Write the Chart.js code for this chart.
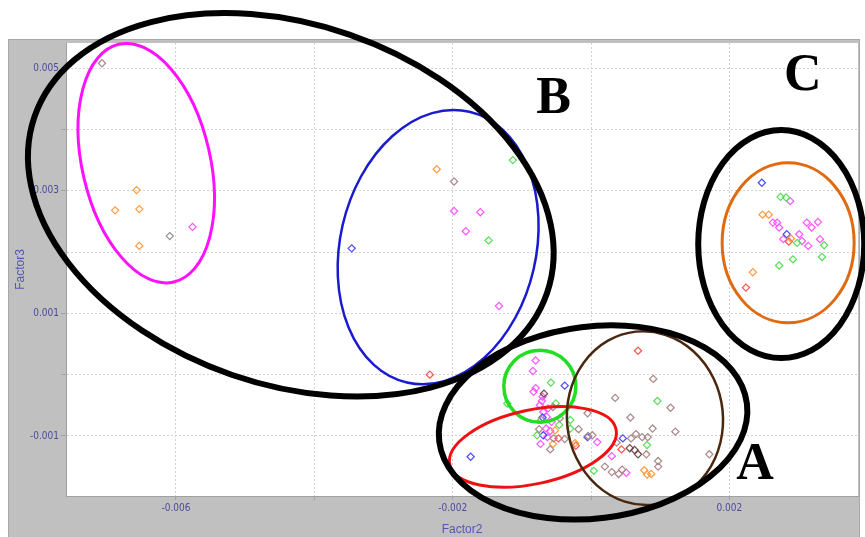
<!DOCTYPE html>
<html>
<head>
<meta charset="utf-8">
<script src="https://cdn.jsdelivr.net/npm/chart.js@4.4.1/dist/chart.umd.min.js"></script>
<style>
  html, body { margin: 0; padding: 0; background: #ffffff; }
  #wrap { width: 865px; height: 537px; }
</style>
</head>
<body>
<div id="wrap"><canvas id="c" width="865" height="537"></canvas></div>
<script>
// Factor scores (Factor2, Factor3) per sample group
const pinkPts = [
  [-0.00576, 0.00241], [-0.00198, 0.00267], [-0.00160, 0.00265], [-0.00181, 0.00234], [-0.00133, 0.00112],
  [-0.00080, 0.00023], [-0.00084, 0.00006], [-0.00080, -0.00022], [-0.00083, -0.00028], [-0.00070, -0.00036],
  [-0.00071, -0.00043], [-0.00074, -0.00050], [-0.00062, -0.00055], [-0.00069, -0.00061], [-0.00064, -0.00069],
  [-0.00057, -0.00077], [-0.00065, -0.00088], [-0.00059, -0.00092], [-0.00063, -0.00102], [-0.00073, -0.00113],
  [0.00009, -0.00110], [0.00030, -0.00133], [0.00051, -0.00160],
  [0.00288, 0.00283], [0.00263, 0.00248], [0.00269, 0.00248], [0.00272, 0.00240], [0.00312, 0.00248],
  [0.00328, 0.00249], [0.00319, 0.00240], [0.00278, 0.00221], [0.00301, 0.00229], [0.00305, 0.00218],
  [0.00314, 0.00210], [0.00331, 0.00221]
];
const orangePts = [
  [-0.00657, 0.00301], [-0.00688, 0.00268], [-0.00653, 0.00270], [-0.00653, 0.00210], [-0.00223, 0.00335],
  [-0.00052, -0.00091], [-0.00055, -0.00113], [-0.00023, -0.00112], [0.00077, -0.00156], [0.00081, -0.00163],
  [0.00087, -0.00162], [0.00248, 0.00261], [0.00257, 0.00261], [0.00289, 0.00222], [0.00234, 0.00167]
];
const brownPts = [
  [-0.00707, 0.00508], [-0.00198, 0.00315], [-0.00055, -0.00053], [-0.00018, -0.00089], [-0.00075, -0.00089],
  [-0.00054, -0.00104], [-0.00038, -0.00105], [-0.00059, -0.00122], [-0.00005, -0.00063], [-0.00004, -0.00100],
  [0.00002, -0.00099], [0.00090, -0.00007], [0.00035, -0.00038], [0.00115, -0.00054], [0.00057, -0.00070],
  [0.00089, -0.00088], [0.00122, -0.00093], [0.00058, -0.00104], [0.00065, -0.00097], [0.00074, -0.00102],
  [0.00082, -0.00102], [0.00037, -0.00111], [0.00080, -0.00130], [0.00097, -0.00141], [0.00097, -0.00150],
  [0.00020, -0.00150], [0.00030, -0.00159], [0.00040, -0.00162], [0.00045, -0.00155], [0.00171, -0.00130],
  [-0.00072, -0.00074], [-0.00045, -0.00071]
];
const darkBrownPts = [
  [-0.00068, -0.00031], [0.00056, -0.00120], [0.00063, -0.00123], [0.00068, -0.00130]
];
const grayPts = [
  [-0.00609, 0.00226]
];
const bluePts = [
  [-0.00346, 0.00206], [-0.00038, -0.00018], [-0.00070, -0.00070], [-0.00069, -0.00099], [-0.00005, -0.00102],
  [0.00046, -0.00104], [-0.00174, -0.00134], [0.00247, 0.00313], [0.00283, 0.00229]
];
const greenPts = [
  [-0.00113, 0.00350], [-0.00148, 0.00219], [-0.00058, -0.00013], [-0.00051, -0.00047], [-0.00121, -0.00047],
  [-0.00030, -0.00074], [-0.00030, -0.00088], [-0.00078, -0.00099], [-0.00046, -0.00082], [0.00096, -0.00043],
  [0.00081, -0.00115], [0.00004, -0.00157], [0.00274, 0.00290], [0.00282, 0.00289], [0.00298, 0.00215],
  [0.00337, 0.00211], [0.00292, 0.00188], [0.00272, 0.00178], [0.00334, 0.00192]
];
const redPts = [
  [-0.00233, 0.00000], [0.00068, 0.00039], [0.00044, -0.00122], [-0.00022, -0.00116], [-0.00047, -0.00104],
  [0.00286, 0.00217], [0.00224, 0.00142]
];

// Axis ticks
const xTicks = [-0.006, -0.004, -0.002, 0, 0.002];
const xLabelled = [-0.006, -0.002, 0.002];
const yTicks = [-0.001, 0, 0.001, 0.002, 0.003, 0.004, 0.005];
const yLabelled = [-0.001, 0.001, 0.003, 0.005];

// Group outlines and labels (centre in data units, radii in px, rotation in degrees)
const outlines = [
  { cx: -0.00643, cy: 0.00345, rx: 64, ry: 122, rot: -13, color: '#ff10ff', width: 3 },
  { cx: -0.00221, cy: 0.00208, rx: 98, ry: 139, rot: 13, color: '#1a1ad0', width: 2.5 },
  { cx: -0.00074, cy: -0.00019, rx: 36, ry: 36, rot: 0, color: '#22dd22', width: 3.5 },
  { cx: -0.00084, cy: -0.00118, rx: 85, ry: 37, rot: -12, color: '#ee1111', width: 3 },
  { cx: 0.00078, cy: -0.00071, rx: 78, ry: 87, rot: -6, color: '#4a2810', width: 2.5 },
  { cx: 0.00285, cy: 0.00215, rx: 66, ry: 80, rot: 0, color: '#e06a10', width: 3 },
  { cx: -0.00434, cy: 0.00277, rx: 271, ry: 180, rot: 19, color: '#000000', width: 6 },
  { cx: 0.00003, cy: -0.00078, rx: 155, ry: 96, rot: -7, color: '#000000', width: 6 },
  { cx: 0.00275, cy: 0.00213, rx: 83, ry: 114, rot: 0, color: '#000000', width: 6 }
];
const groupLabels = [
  { text: 'A', x: 0.00237, y: -0.00149 },
  { text: 'B', x: -0.00054, y: 0.00448 },
  { text: 'C', x: 0.00306, y: 0.00487 }
];

function toXY(arr) { return arr.map(p => ({ x: p[0], y: p[1] })); }
function series(label, arr, color) {
  return {
    label, data: toXY(arr),
    pointStyle: 'rectRot', pointRadius: 3.6, pointHoverRadius: 3.6,
    borderColor: color, backgroundColor: 'rgba(255,255,255,0)', borderWidth: 1.2
  };
}

const frame = {
  id: 'frame',
  beforeDraw(chart) {
    const { ctx, chartArea: a } = chart;
    ctx.save();
    ctx.fillStyle = '#ffffff';
    ctx.fillRect(0, 0, chart.width, chart.height);
    ctx.fillStyle = '#c0c0c0';
    ctx.fillRect(8, a.top - 4, a.right + 2 - 8, chart.height - (a.top - 4));
    ctx.strokeStyle = '#a8a8a8';
    ctx.lineWidth = 1;
    ctx.strokeRect(8.5, a.top - 3.5, a.right + 1 - 8, chart.height);
    ctx.fillStyle = '#ffffff';
    ctx.fillRect(a.left, a.top, a.right - a.left, a.bottom - a.top);
    ctx.restore();
  }
};

const annotate = {
  id: 'annotate',
  afterDraw(chart) {
    const { ctx } = chart;
    const sx = chart.scales.x, sy = chart.scales.y;
    ctx.save();
    for (const e of outlines) {
      ctx.beginPath();
      ctx.ellipse(sx.getPixelForValue(e.cx), sy.getPixelForValue(e.cy), e.rx, e.ry,
        e.rot * Math.PI / 180, 0, Math.PI * 2);
      ctx.strokeStyle = e.color;
      ctx.lineWidth = e.width;
      ctx.stroke();
    }
    ctx.fillStyle = '#000000';
    ctx.font = 'bold 52px "Liberation Serif", "Times New Roman", serif';
    ctx.textAlign = 'center';
    ctx.textBaseline = 'middle';
    for (const g of groupLabels) {
      ctx.fillText(g.text, sx.getPixelForValue(g.x), sy.getPixelForValue(g.y));
    }
    ctx.restore();
  }
};

const tickFont = { family: '"Liberation Sans Narrow", "DejaVu Sans Condensed", "Liberation Sans", sans-serif', size: 10 };
const titleFont = { family: '"Liberation Sans", Arial, sans-serif', size: 12 };
const near = (v, list) => list.some(t => Math.abs(t - v) < 1e-9);

new Chart(document.getElementById('c'), {
  type: 'scatter',
  data: {
    datasets: [
      series('Group 1', brownPts, '#a88888'),
      series('Group 2', darkBrownPts, '#6e4646'),
      series('Group 3', grayPts, '#909090'),
      series('Group 4', orangePts, '#ff9a40'),
      series('Group 5', greenPts, '#55e055'),
      series('Group 6', bluePts, '#4a4aff'),
      series('Group 7', redPts, '#ff5050'),
      series('Group 8', pinkPts, '#ff55ff')
    ]
  },
  options: {
    responsive: false,
    animation: false,
    layout: { padding: { left: 8, top: 43, right: 7, bottom: 0 } },
    plugins: { legend: { display: false }, tooltip: { enabled: false } },
    scales: {
      x: {
        type: 'linear', min: -0.00759, max: 0.00386,
        afterBuildTicks: s => { s.ticks = xTicks.map(v => ({ value: v })); },
        afterFit: s => { s.height = 41; },
        ticks: {
          autoSkip: false, maxRotation: 0, padding: 2, color: '#4a4a9a', font: tickFont,
          callback: v => near(v, xLabelled) ? v.toFixed(3) : ''
        },
        grid: { color: '#d2d2d2', tickColor: '#a0a0b0', tickLength: 4, tickBorderDash: [] },
        border: { display: true, color: '#a0a0a0', dash: [2, 2] },
        title: { display: true, text: 'Factor2', color: '#5555b0', font: titleFont, padding: { top: 2, bottom: 0 } }
      },
      y: {
        type: 'linear', min: -0.00198, max: 0.00541,
        afterBuildTicks: s => { s.ticks = yTicks.map(v => ({ value: v })); },
        afterFit: s => { s.width = 58; },
        ticks: {
          autoSkip: false, padding: 2, color: '#4a4a9a', font: tickFont,
          callback: v => near(v, yLabelled) ? v.toFixed(3) : ''
        },
        grid: { color: '#d2d2d2', tickColor: '#a0a0b0', tickLength: 5, tickBorderDash: [] },
        border: { display: true, color: '#a0a0a0', dash: [2, 2] },
        title: { display: true, text: 'Factor3', color: '#5555b0', font: titleFont, padding: { top: 5, bottom: 0 } }
      }
    }
  },
  plugins: [frame, annotate]
});
</script>
</body>
</html>
